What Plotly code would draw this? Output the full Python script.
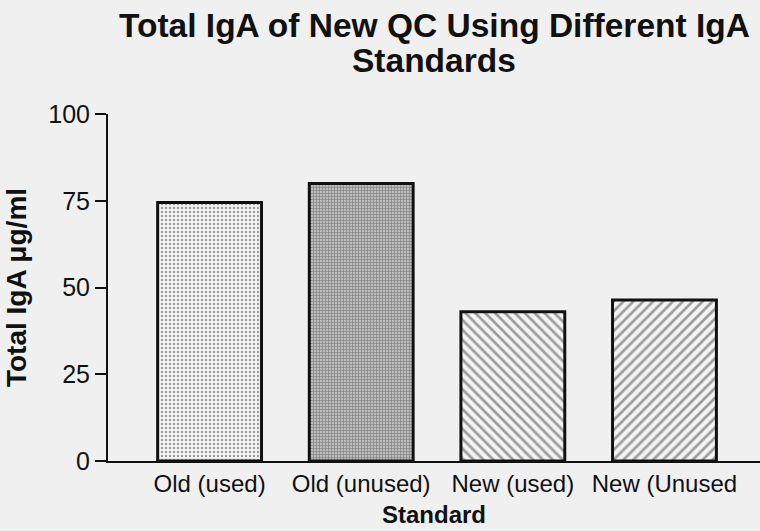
import plotly.graph_objects as go

categories = ["Old (used)", "Old (unused)", "New (used)", "New (Unused"]
values = [74.5, 80.0, 43.0, 46.4]
y_ticks = [0, 25, 50, 75, 100]

shapes = [".", "+", "\\", "/"]
fg = ["#3a3a3a", "#5a5a5a", "#222222", "#222222"]
bg = ["#f4f4f4", "#bdbdbd", "#f4f4f4", "#f4f4f4"]
sizes = [4, 3, 7, 7]
solid = [0.3, 0.4, 0.38, 0.38]

fig = go.Figure()
fig.add_trace(go.Bar(
    x=list(range(len(categories))),
    y=values,
    width=0.685,
    marker=dict(
        color=bg,
        line=dict(color="#111111", width=3),
        pattern=dict(shape=shapes, fgcolor=fg, bgcolor=bg, size=sizes, solidity=solid),
    ),
    showlegend=False,
))

font_family = "Liberation Sans, Arial, sans-serif"
fig.update_layout(
    width=760, height=531,
    margin=dict(l=108, r=0, t=114, b=70),
    paper_bgcolor="#f0f0f0",
    plot_bgcolor="#f0f0f0",
    font=dict(family=font_family, color="#111111"),
    annotations=[
        dict(text="<b>Total IgA of New QC Using Different IgA</b>", xref="paper", yref="paper",
             x=0.5, xanchor="center", y=1, yshift=114 - 5, yanchor="top",
             showarrow=False, font=dict(size=33.5)),
        dict(text="<b>Standards</b>", xref="paper", yref="paper",
             x=0.5, xanchor="center", y=1, yshift=114 - 40, yanchor="top",
             showarrow=False, font=dict(size=33.5)),
    ],
    xaxis=dict(
        range=[-0.67, 3.63],
        tickmode="array",
        tickvals=list(range(len(categories))),
        ticktext=categories,
        showline=True, linecolor="#111111", linewidth=2,
        ticks="", showgrid=False, zeroline=False,
        tickfont=dict(size=24),
        title=dict(text="<b>Standard</b>", font=dict(size=24), standoff=10),
    ),
    yaxis=dict(
        range=[0, 100],
        tickmode="array",
        tickvals=y_ticks,
        showline=True, linecolor="#111111", linewidth=2,
        ticks="outside", ticklen=11, tickwidth=2, tickcolor="#111111",
        showgrid=False, zeroline=False,
        tickfont=dict(size=25),
        title=dict(text="<b>Total IgA μg/ml</b>", font=dict(size=28), standoff=13),
    ),
)

fig.write_html("out.html", config={"displayModeBar": False},
               post_script="document.body.style.margin='0';document.body.style.overflow='hidden';")
